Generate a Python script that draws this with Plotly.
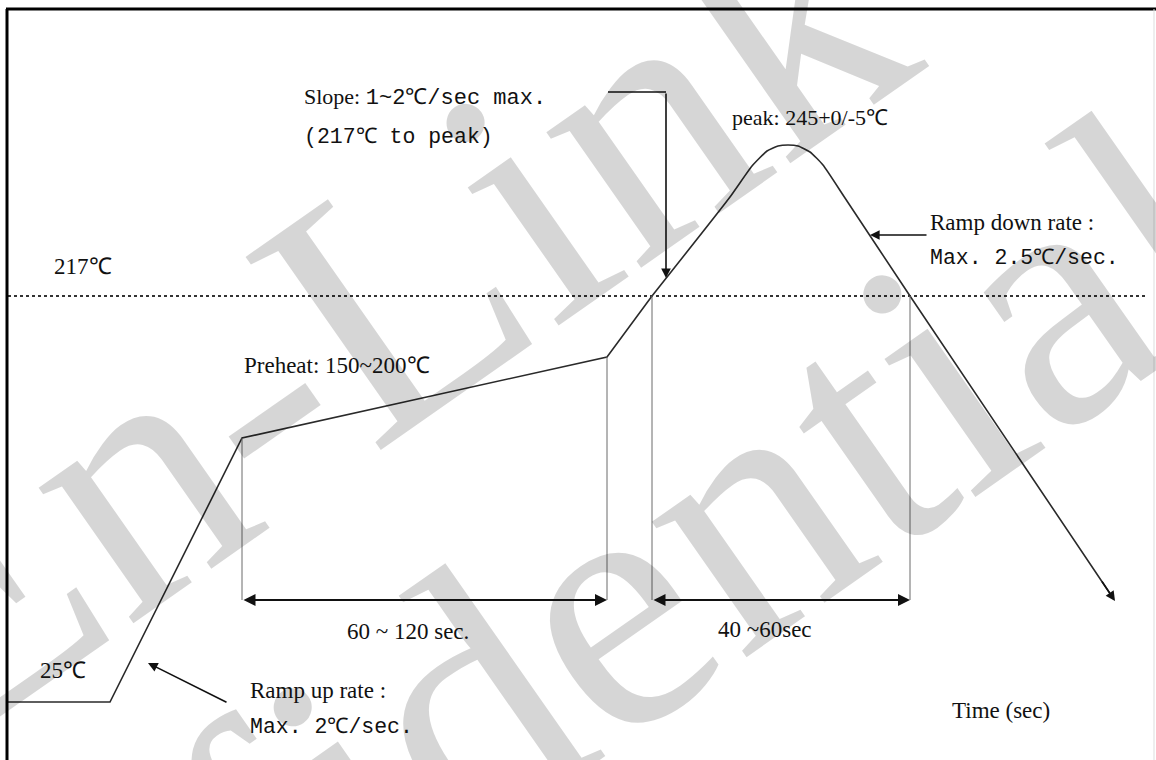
import plotly.graph_objects as go

# ---- schematic reflow profile (diagram units: x = time axis, y = temperature axis) ----
profile_time = [7, 110, 242, 607, 652]
profile_temp = [58, 58, 322, 403, 464]
peak_time = [652, 730, 752, 767, 778, 788, 798, 810, 823, 845, 910, 1113]
peak_temp = [464, 563, 594, 609, 614, 615, 614, 608, 595, 562, 464, 162]

liquidus_level = 464          # 217 C reference line
preheat_start, preheat_end = 242, 607
reflow_start, reflow_end = 652, 910
preheat_start_temp, preheat_end_temp = 322, 403
span_level = 160

SERIF = "Liberation Serif, Times New Roman, serif"
MONO = "Liberation Mono, Courier New, monospace"
INK = "#111111"

fig = go.Figure()

# profile line
fig.add_trace(go.Scatter(x=profile_time, y=profile_temp, mode="lines",
                         line=dict(color="#2a2a2a", width=1.6), hoverinfo="skip"))
fig.add_trace(go.Scatter(x=peak_time, y=peak_temp, mode="lines",
                         line=dict(color="#2a2a2a", width=1.6, shape="spline", smoothing=0.5),
                         hoverinfo="skip"))

# 217C dotted line
fig.add_trace(go.Scatter(x=[8, 1146], y=[liquidus_level, liquidus_level], mode="lines",
                         line=dict(color="#333333", width=2.2, dash="dot"), hoverinfo="skip"))

# vertical guides
guides = [(preheat_start, preheat_start_temp), (preheat_end, preheat_end_temp),
          (reflow_start, liquidus_level), (reflow_end, liquidus_level)]
for gx, gy in guides:
    fig.add_trace(go.Scatter(x=[gx, gx], y=[gy, span_level], mode="lines",
                             line=dict(color="#6a6a6a", width=1), hoverinfo="skip"))

# slope callout bracket line
fig.add_trace(go.Scatter(x=[608, 666], y=[668, 668], mode="lines",
                         line=dict(color=INK, width=1.6), hoverinfo="skip"))

annotations = []

# watermark
wm = "rgba(0,0,0,0.16)"
annotations.append(dict(x=368, y=450, xref="x", yref="y", text="En-Link", showarrow=False,
                        font=dict(family=SERIF, size=360, color=wm), textangle=-35))
annotations.append(dict(x=457, y=49, xref="x", yref="y", text="Confidential", showarrow=False,
                        font=dict(family=SERIF, size=360, color=wm), textangle=-35))


def arrow(x, y, ax, ay, width=2, side="end", size=1.2):
    annotations.append(dict(x=x, y=y, ax=ax, ay=ay, xref="x", yref="y", axref="x", ayref="y",
                            text="", showarrow=True, arrowhead=2, arrowsize=size,
                            arrowwidth=width, arrowcolor=INK, arrowside=side, standoff=0,
                            startstandoff=0))


# span double arrows
arrow(preheat_end, span_level, preheat_start, span_level, width=2, side="end+start")
arrow(reflow_end, span_level, reflow_start, span_level, width=2, side="end+start")
# slope callout arrow
arrow(666, 482, 666, 668, width=1.6)
# ramp down callout
arrow(870, 525, 928, 525, width=1.6)
# ramp up callout
arrow(148, 97, 228, 57, width=1.6)
# end of profile
arrow(1115, 159, 1101, 180, width=1.6)


def label(x, y, text, family=SERIF, size=23):
    annotations.append(dict(x=x, y=y, xref="x", yref="y", text=text, showarrow=False,
                            xanchor="left", yanchor="middle",
                            font=dict(family=family, size=size, color=INK)))


label(302, 663, "Slope: <span style='font-family:Liberation Mono'>1~2℃/sec max.</span>", size=22)
label(302, 623, "(217℃ to peak)", family=MONO, size=21.5)
label(730, 643, "peak: 245+0/-5℃", size=22)
label(928, 538, "Ramp down rate :", size=23)
label(928, 502, "Max. 2.5℃/sec.", family=MONO, size=21.5)
label(52, 494, "217℃", size=23)
label(242, 395, "Preheat: 150~200℃", size=23)
label(345, 129, "60 ~ 120 sec.", size=23)
label(716, 131, "40 ~60sec", size=23)
label(38, 90, "25℃", size=23)
label(248, 70, "Ramp up rate :", size=23)
label(248, 33, "Max. 2℃/sec.", family=MONO, size=21.5)
label(950, 50, "Time (sec)", size=23)

shapes = [
    dict(type="line", xref="paper", yref="paper", x0=7 / 1156, x1=7 / 1156, y0=0, y1=751 / 760,
         line=dict(color="#000000", width=3)),
    dict(type="line", xref="paper", yref="paper", x0=6 / 1156, x1=1, y0=751 / 760, y1=751 / 760,
         line=dict(color="#000000", width=3)),
    dict(type="line", xref="paper", yref="paper", x0=1154 / 1156, x1=1154 / 1156, y0=0, y1=751 / 760,
         line=dict(color="#dddddd", width=1)),
]

fig.update_layout(
    width=1156, height=760, margin=dict(l=0, r=0, t=0, b=0),
    paper_bgcolor="white", plot_bgcolor="white", showlegend=False,
    xaxis=dict(range=[0, 1156], visible=False, fixedrange=True),
    yaxis=dict(range=[0, 760], visible=False, fixedrange=True),
    annotations=annotations, shapes=shapes,
)

fig.write_html(
    "out.html",
    config={"displayModeBar": False},
    post_script="document.body.style.margin='0';document.body.style.overflow='hidden';",
)
